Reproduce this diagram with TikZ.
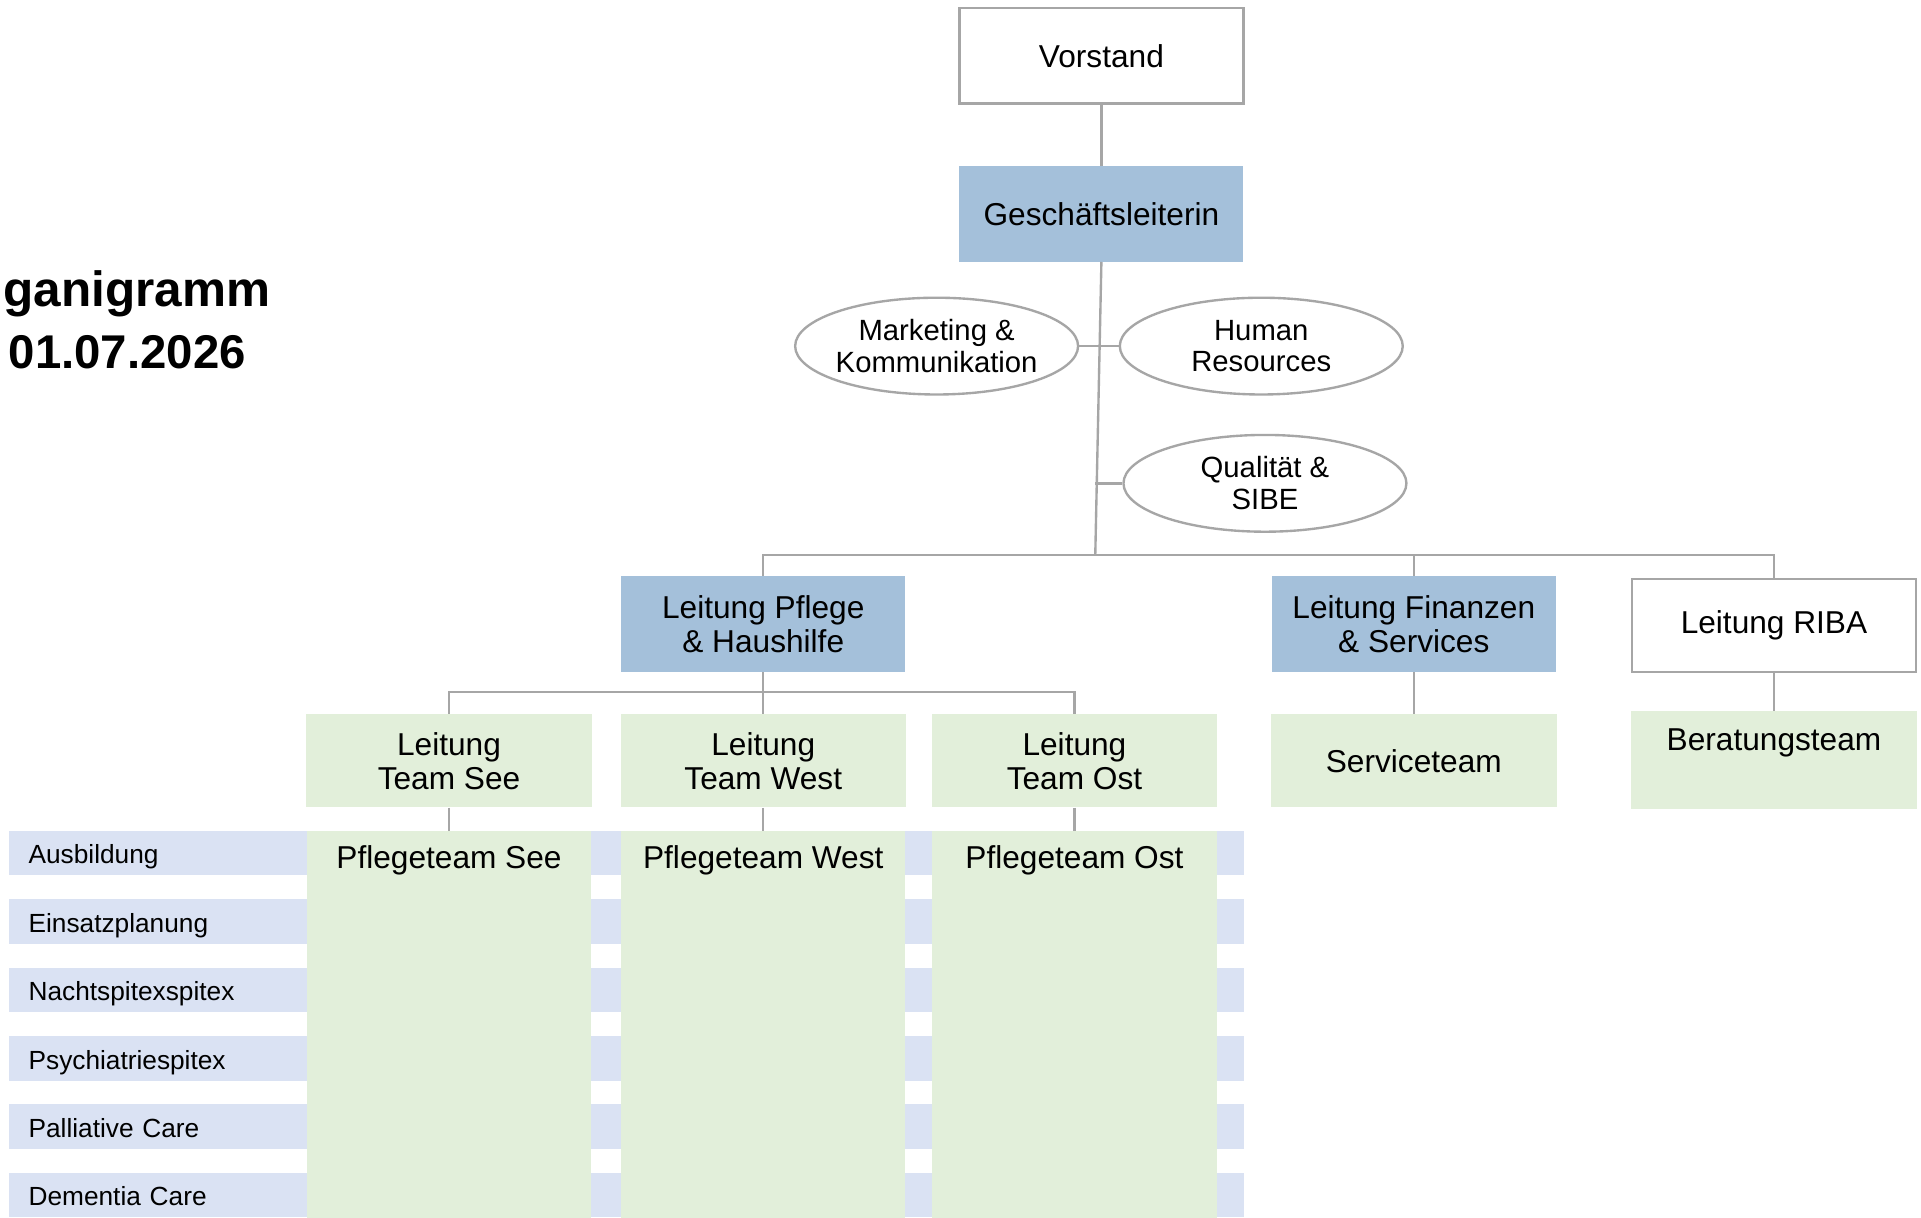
\documentclass[tikz,border=0pt]{standalone}
\usepackage{fontspec}
\setmainfont{Liberation Sans}
\usetikzlibrary{shapes.geometric}

\definecolor{linegray}{RGB}{166,166,166}
\definecolor{leadblue}{RGB}{164,192,218}
\definecolor{teamgreen}{RGB}{226,239,218}
\definecolor{rowblue}{RGB}{218,226,243}

\begin{document}
\begin{tikzpicture}
[x=0.02cm,y=-0.02cm,
 every node/.style={rectangle,inner sep=0pt,align=center,font=\fontsize{14.7}{15.9}\selectfont},
 frame/.style={draw=linegray,line width=1.1pt,fill=white,minimum width=4.64cm,minimum height=1.56cm},
 lead/.style={fill=leadblue,minimum width=4.64cm,minimum height=1.56cm},
 team/.style={fill=teamgreen,minimum width=4.66cm,minimum height=1.52cm},
 staff/.style={ellipse,draw=linegray,line width=1.1pt,minimum width=4.62cm,minimum height=1.58cm,inner xsep=-2pt,font=\fontsize{13.6}{14.8}\selectfont},
 row/.style={fill=rowblue,anchor=west,minimum height=0.73cm,inner xsep=0.32cm,text width=19.52cm,text height=0.35cm,text depth=0pt,align=left,font=\fontsize{12.2}{13}\selectfont},
 pool/.style={fill=teamgreen,anchor=north,minimum width=4.64cm,text height=0.61cm,text depth=5.70cm},
 link/.style={draw=linegray,line width=1.1pt}]
  \path[use as bounding box,fill=white] (0,0) rectangle (1568,993.4);

  \node[anchor=base east,font=\fontsize{23}{26}\selectfont\bfseries] (title) at (221,250) {ganigramm};
  \node[anchor=base east,font=\fontsize{22}{26}\selectfont\bfseries] (date) at (201,300.6) {01.07.2026};

  \node[frame] (vs) at (899,45.5)   {Vorstand};
  \node[lead] (gl) at (899,174.5)   {Geschäftsleiterin};

  \node[staff] (mk) at (764.5,282.5)  {Marketing \&\\Kommunikation};
  \node[staff] (hr) at (1029.5,282.5) {Human\\Resources};
  \node[staff] (qs) at (1032.5,394.5) {Qualität \&\\SIBE};

  \node[lead] (lpf) at (623,509.5)  {Leitung Pflege\\\& Haushilfe};
  \node[lead] (lfs) at (1154,509.5) {Leitung Finanzen\\\& Services};
  \node[frame,minimum height=1.52cm] (lrb) at (1448,510.5) {Leitung RIBA};

  \node[team] (ls) at (366.5,621) {Leitung\\Team See};
  \node[team] (lw) at (623,621)   {Leitung\\Team West};
  \node[team] (lo) at (877,621)   {Leitung\\Team Ost};
  \node[team] (svt) at (1154,621) {Serviceteam};
  \node[team,anchor=north,minimum height=0pt,text height=0.65cm,text depth=0.95cm] (bt) at (1448,580) {Beratungsteam};

  \foreach \lab [count=\i from 0] in {Ausbildung,Einsatzplanung,Nachtspitexspitex,Psychiatriespitex,Palliative Care,Dementia Care}
    \node[row] (row\i) at (7,{696.25+55.85*\i}) {\lab};

  \node[pool] (ps) at (366.5,678) {Pflegeteam See};
  \node[pool] (pw) at (623,678)   {Pflegeteam West};
  \node[pool] (po) at (877,678)   {Pflegeteam Ost};

  \coordinate (bus1) at (894,453);
  \coordinate (bus2) at (623,565);

  \draw[link] (vs) -- (gl);
  \draw[link] (gl.south) -- (bus1);
  \foreach \unit in {mk,hr,qs}
    \draw[link] (\unit) -- (\unit -| bus1);
  \foreach \to in {lpf,lfs,lrb}
    \draw[link] (bus1) -| (\to);
  \draw[link] (lpf) -- (bus2);
  \foreach \to in {ls,lw,lo}
    \draw[link] (bus2) -| (\to);
  \foreach \from/\to in {ls/ps,lw/pw,lo/po,lfs/svt,lrb/bt}
    \draw[link] (\from) -- (\to);
\end{tikzpicture}
\end{document}
